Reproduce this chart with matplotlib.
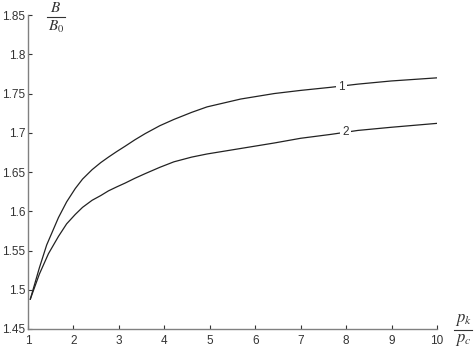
import matplotlib
matplotlib.use('Agg')
import matplotlib.pyplot as plt
from matplotlib.lines import Line2D

# Curve data
x1 = [1.05, 1.25, 1.41, 1.67, 1.85, 2.04, 2.2, 2.41, 2.6, 2.77, 2.95, 3.14, 3.35, 3.58,
      3.9, 4.21, 4.6, 4.94, 5.68, 6.42, 7.0, 7.67, 8.26, 8.99, 10]
y1 = [1.488, 1.528, 1.557, 1.592, 1.612, 1.629, 1.641, 1.653, 1.662, 1.669, 1.676, 1.683, 1.691, 1.699,
      1.709, 1.717, 1.726, 1.733, 1.743, 1.750, 1.754, 1.758, 1.762, 1.766, 1.770]

x2 = [1.05, 1.25, 1.45, 1.67, 1.85, 2.04, 2.2, 2.41, 2.6, 2.77, 2.95, 3.14, 3.35, 3.58,
      3.9, 4.21, 4.6, 4.94, 5.68, 6.42, 7.0, 7.67, 8.26, 8.99, 10]
y2 = [1.488, 1.52, 1.546, 1.568, 1.584, 1.596, 1.605, 1.614, 1.620, 1.626, 1.631, 1.636, 1.642, 1.648,
      1.656, 1.663, 1.669, 1.673, 1.680, 1.687, 1.693, 1.698, 1.703, 1.707, 1.712]

xticks = list(range(1, 11))
yticks = [1.45, 1.5, 1.55, 1.6, 1.65, 1.7, 1.75, 1.8, 1.85]
ytick_labels = ['1.45', '1.5', '1.55', '1.6', '1.65', '1.7', '1.75', '1.8', '1.85']

plt.rcParams['font.family'] = ['Liberation Sans', 'DejaVu Sans']
plt.rcParams['mathtext.fontset'] = 'stix'

W, H = 475, 350
fig = plt.figure(figsize=(4.75, 3.5), dpi=100)
ax = fig.add_axes([0.059, 0.06, 0.861, 0.897])

ax.plot(x1, y1, color='#222222', lw=0.9)
ax.plot(x2, y2, color='#222222', lw=0.9)

# curve numbers, white box cuts a gap in the line
box = dict(facecolor='white', edgecolor='none', pad=1.5)
ax.text(7.90, 1.7587, '1', fontsize=8.5, color='#333333', ha='center', va='center', bbox=box)
ax.text(7.98, 1.7006, '2', fontsize=8.5, color='#333333', ha='center', va='center', bbox=box)

ax.set_xlim(1, 10)
ax.set_ylim(1.45, 1.85)
ax.set_xticks(xticks)
ax.set_yticks(yticks)
ax.set_yticklabels(ytick_labels)

for spine in ['top', 'right']:
    ax.spines[spine].set_visible(False)
for spine in ['left', 'bottom']:
    ax.spines[spine].set_color('#808080')
    ax.spines[spine].set_linewidth(1.0)

ax.tick_params(direction='in', length=3, width=0.8, color='#333333',
               labelsize=8.5, labelcolor='#333333')
ax.tick_params(axis='x', pad=4)
ax.tick_params(axis='y', pad=2)


def frac(num, den, xc, ybar, half, size):
    # hand-built fraction in pixel coords (from top-left)
    fig.text(xc / W, 1 - (ybar - 2) / H, num, fontsize=size, color='#333333',
             ha='center', va='bottom')
    fig.text(xc / W, 1 - (ybar + 2) / H, den, fontsize=size, color='#333333',
             ha='center', va='top')
    fig.add_artist(Line2D([(xc - half) / W, (xc + half) / W], [1 - ybar / H, 1 - ybar / H],
                          color='#333333', lw=0.8))


frac(r'$B$', r'$B_0$', 56, 17, 9, 11)
frac(r'$p_k$', r'$p_c$', 463, 330, 9, 12)

fig.savefig('out.png', dpi=100)
